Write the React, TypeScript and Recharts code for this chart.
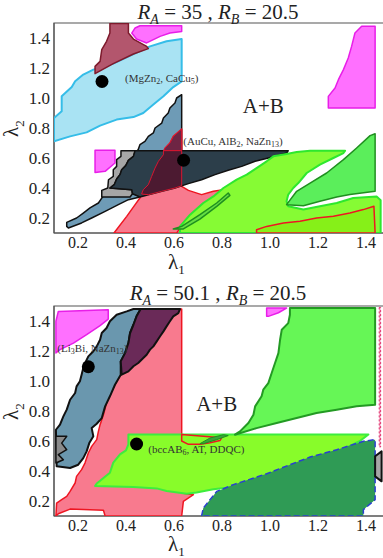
import React from "react";
import {
  ScatterChart,
  Scatter,
  XAxis,
  YAxis,
  ReferenceArea,
} from "recharts";

type Pt = [number, number];

const TICKS = [0.2, 0.4, 0.6, 0.8, 1.0, 1.2, 1.4];

// ---- top panel (R_A = 35) ----
const topCyan: Pt[] = [
  [0.1, 0.867], [0.132, 0.911], [0.132, 1.011], [0.174, 1.073], [0.188, 1.111],
  [0.222, 1.156], [0.264, 1.189], [0.347, 1.229], [0.431, 1.293], [0.5, 1.344],
  [0.569, 1.378], [0.632, 1.393], [0.632, 1.111], [0.597, 1.073], [0.556, 1.011],
  [0.514, 0.956], [0.472, 0.9], [0.431, 0.873], [0.361, 0.856], [0.292, 0.816],
  [0.236, 0.771], [0.167, 0.744], [0.1, 0.711],
];
const topMaroon: Pt[] = [
  [0.333, 1.496], [0.41, 1.496], [0.41, 1.433], [0.431, 1.393], [0.486, 1.344],
  [0.493, 1.329], [0.431, 1.293], [0.347, 1.229], [0.271, 1.162], [0.271, 1.211],
  [0.292, 1.244], [0.299, 1.322], [0.319, 1.378], [0.333, 1.433],
];
const topMagentaA: Pt[] = [
  [0.424, 1.433], [0.438, 1.467], [0.458, 1.482], [0.632, 1.482], [0.632, 1.444],
  [0.583, 1.433], [0.542, 1.411], [0.486, 1.367], [0.444, 1.393],
];
const topMagentaB: Pt[] = [
  [1.243, 0.933], [1.243, 1.011], [1.271, 1.067], [1.285, 1.122], [1.306, 1.189],
  [1.326, 1.267], [1.34, 1.344], [1.354, 1.433], [1.382, 1.478], [1.438, 1.478],
  [1.438, 0.933],
];
const topMagentaC: Pt[] = [
  [0.271, 0.651], [0.354, 0.651], [0.354, 0.567], [0.313, 0.511], [0.271, 0.504],
];
const topSteel: Pt[] = [
  [0.632, 1.022], [0.632, 0.644], [0.458, 0.34], [0.41, 0.322], [0.368, 0.289],
  [0.313, 0.244], [0.257, 0.2], [0.215, 0.167], [0.16, 0.133], [0.153, 0.144],
  [0.153, 0.171], [0.194, 0.2], [0.222, 0.233], [0.25, 0.267], [0.285, 0.3],
  [0.299, 0.333], [0.35, 0.45], [0.42, 0.6], [0.451, 0.656], [0.458, 0.689],
  [0.479, 0.711], [0.493, 0.744], [0.514, 0.767], [0.521, 0.8], [0.549, 0.833],
  [0.556, 0.867], [0.576, 0.9], [0.583, 0.933], [0.604, 0.967], [0.611, 1.0],
];
const topGray: Pt[] = [
  [0.379, 0.649], [0.438, 0.649], [0.431, 0.611], [0.41, 0.584], [0.399, 0.549],
  [0.382, 0.522], [0.375, 0.489], [0.361, 0.46], [0.351, 0.422], [0.333, 0.4],
  [0.424, 0.389], [0.427, 0.362], [0.417, 0.34], [0.299, 0.34], [0.299, 0.384],
  [0.324, 0.4], [0.327, 0.455], [0.347, 0.478], [0.347, 0.522], [0.361, 0.544],
  [0.361, 0.589], [0.379, 0.611],
];
const topPink: Pt[] = [
  [0.35, 0.1], [0.403, 0.211], [0.438, 0.289], [0.458, 0.333], [0.472, 0.389],
  [0.493, 0.422], [0.507, 0.478], [0.521, 0.533], [0.535, 0.578], [0.556, 0.622],
  [0.563, 0.667], [0.583, 0.7], [0.597, 0.744], [0.632, 0.793], [0.632, 0.411],
  [0.66, 0.384], [0.715, 0.356], [0.764, 0.378], [0.826, 0.393], [0.831, 0.371],
  [0.764, 0.3], [0.694, 0.222], [0.632, 0.144], [0.611, 0.1],
];
const topDark: Pt[] = [
  [0.438, 0.649], [1.076, 0.649], [1.07, 0.633], [0.993, 0.6], [0.938, 0.578],
  [0.882, 0.544], [0.826, 0.518], [0.771, 0.489], [0.715, 0.455], [0.66, 0.429],
  [0.604, 0.4], [0.549, 0.378], [0.493, 0.355], [0.458, 0.34], [0.427, 0.362],
  [0.424, 0.389], [0.333, 0.4], [0.351, 0.422], [0.361, 0.46], [0.375, 0.489],
  [0.382, 0.522], [0.399, 0.549], [0.41, 0.584], [0.431, 0.611],
];
const topMaroonA: Pt[] = [
  [0.632, 0.793], [0.597, 0.744], [0.583, 0.7], [0.563, 0.667], [0.556, 0.649],
  [0.632, 0.649],
];
const topMaroonB: Pt[] = [
  [0.556, 0.649], [0.632, 0.649], [0.632, 0.415], [0.604, 0.4], [0.549, 0.378],
  [0.493, 0.355], [0.465, 0.36], [0.472, 0.389], [0.493, 0.422], [0.507, 0.478],
  [0.521, 0.533], [0.535, 0.578], [0.556, 0.622],
];
const topLime: Pt[] = [
  [0.625, 0.1], [0.625, 0.144], [0.667, 0.222], [0.722, 0.3], [0.764, 0.344],
  [0.806, 0.4], [0.861, 0.456], [0.903, 0.489], [0.944, 0.533], [0.986, 0.578],
  [1.014, 0.611], [1.069, 0.627], [1.111, 0.64], [1.167, 0.649], [1.313, 0.649],
  [1.306, 0.633], [1.264, 0.6], [1.208, 0.556], [1.153, 0.5], [1.118, 0.433],
  [1.097, 0.4], [1.076, 0.356], [1.069, 0.311], [1.076, 0.278], [1.139, 0.256],
  [1.208, 0.278], [1.278, 0.3], [1.347, 0.333], [1.444, 0.344], [1.461, 0.318],
  [1.461, 0.1],
];
const topGreen: Pt[] = [
  [1.069, 0.289], [1.111, 0.378], [1.167, 0.433], [1.236, 0.5], [1.306, 0.589],
  [1.361, 0.667], [1.417, 0.749], [1.438, 0.762], [1.438, 0.378], [1.333, 0.356],
  [1.278, 0.34], [1.208, 0.311], [1.139, 0.282],
];
const topRedLime: Pt[] = [
  [0.944, 0.1], [0.944, 0.122], [0.986, 0.144], [1.056, 0.167], [1.125, 0.178],
  [1.194, 0.2], [1.264, 0.211], [1.333, 0.233], [1.389, 0.256], [1.433, 0.278],
  [1.438, 0.1],
];
const topSliver: Pt[] = [
  [0.597, 0.127], [0.632, 0.144], [0.708, 0.222], [0.778, 0.3], [0.826, 0.367],
  [0.833, 0.351], [0.778, 0.278], [0.708, 0.193], [0.639, 0.127],
];
const topDots: Pt[] = [[0.3, 1.11], [0.64, 0.585]];
const topLabels = [
  { x: 0.396, y: 1.13, text: "(MgZn_2, CaCu_5)" },
  { x: 0.639, y: 0.705, text: "(AuCu, AlB_2, NaZn_13)" },
];
const topAB = { x: 0.972, y: 0.933 };

// ---- bottom panel (R_A = 50.1) ----
const botMagenta: Pt[] = [
  [0.108, 1.398], [0.118, 1.464], [0.326, 1.475], [0.326, 1.413], [0.292, 1.369],
  [0.236, 1.309], [0.181, 1.253], [0.125, 1.209], [0.108, 1.187],
];
const botPink: Pt[] = [
  [0.465, 1.48], [0.632, 1.48], [0.632, 0.253], [0.681, 0.242], [0.639, 0.198],
  [0.632, 0.1], [0.313, 0.1], [0.306, 0.138], [0.167, 0.146], [0.118, 0.115],
  [0.108, 0.1], [0.111, 0.186], [0.132, 0.209], [0.153, 0.231], [0.167, 0.264],
  [0.188, 0.32], [0.194, 0.364], [0.215, 0.409], [0.229, 0.453], [0.243, 0.52],
  [0.257, 0.564], [0.278, 0.609], [0.285, 0.664], [0.292, 0.709], [0.306, 0.775],
  [0.319, 0.853], [0.333, 0.909], [0.354, 0.975], [0.378, 1.042], [0.382, 1.109],
  [0.403, 1.153], [0.41, 1.209], [0.424, 1.275], [0.438, 1.342], [0.451, 1.409],
];
const botSteel: Pt[] = [
  [0.461, 1.48], [0.444, 1.431], [0.431, 1.375], [0.417, 1.32], [0.41, 1.253],
  [0.396, 1.186], [0.378, 1.131], [0.378, 1.042], [0.354, 0.975], [0.333, 0.898],
  [0.313, 0.831], [0.299, 0.753], [0.278, 0.715], [0.257, 0.686], [0.264, 0.631],
  [0.247, 0.586], [0.236, 0.531], [0.222, 0.486], [0.201, 0.442], [0.167, 0.42],
  [0.111, 0.431], [0.108, 0.675], [0.125, 0.709], [0.139, 0.764], [0.153, 0.809],
  [0.167, 0.875], [0.188, 0.92], [0.194, 0.964], [0.208, 0.998], [0.215, 1.042],
  [0.222, 1.087], [0.233, 1.131], [0.243, 1.164], [0.264, 1.198], [0.278, 1.231],
  [0.292, 1.275], [0.299, 1.32], [0.319, 1.353], [0.333, 1.398], [0.361, 1.442],
  [0.403, 1.464], [0.431, 1.48],
];
const botMaroon: Pt[] = [
  [0.461, 1.48], [0.625, 1.48], [0.618, 1.453], [0.597, 1.431], [0.583, 1.398],
  [0.569, 1.364], [0.556, 1.331], [0.542, 1.298], [0.528, 1.264], [0.514, 1.231],
  [0.5, 1.209], [0.486, 1.175], [0.472, 1.153], [0.451, 1.12], [0.431, 1.098],
  [0.41, 1.064], [0.382, 1.042], [0.378, 1.131], [0.396, 1.186], [0.41, 1.253],
  [0.417, 1.32], [0.431, 1.375], [0.444, 1.431],
];
const botStar: Pt[] = [
  [0.108, 0.631], [0.153, 0.631], [0.132, 0.586], [0.153, 0.542], [0.118, 0.509],
  [0.139, 0.475], [0.108, 0.453],
];
const botLime: Pt[] = [
  [0.41, 0.644], [1.41, 0.644], [1.375, 0.6], [1.319, 0.556], [1.264, 0.511],
  [1.208, 0.478], [1.153, 0.444], [1.097, 0.411], [1.042, 0.378], [0.986, 0.356],
  [0.931, 0.322], [0.875, 0.3], [0.819, 0.289], [0.764, 0.278], [0.694, 0.256],
  [0.653, 0.249], [0.569, 0.267], [0.528, 0.284], [0.431, 0.293], [0.271, 0.3],
  [0.278, 0.316], [0.333, 0.389], [0.347, 0.456], [0.375, 0.511], [0.4, 0.538],
  [0.41, 0.578],
];
const botCap: Pt[] = [
  [0.632, 0.644], [0.632, 0.6], [0.66, 0.578], [0.708, 0.578], [0.75, 0.589],
  [0.792, 0.604], [0.799, 0.622],
];
const botSliver: Pt[] = [
  [0.708, 0.582], [0.75, 0.62], [0.806, 0.642], [0.826, 0.636], [0.778, 0.609],
  [0.722, 0.582],
];
const botGreen: Pt[] = [
  [1.083, 1.486], [1.438, 1.486], [1.438, 0.842], [1.361, 0.831], [1.278, 0.809],
  [1.194, 0.787], [1.111, 0.753], [1.028, 0.72], [0.944, 0.686], [0.854, 0.642],
  [0.875, 0.664], [0.91, 0.72], [0.931, 0.775], [0.938, 0.831], [0.965, 0.898],
  [0.972, 0.942], [0.993, 0.986], [1.007, 1.053], [1.021, 1.12], [1.035, 1.186],
  [1.042, 1.275], [1.049, 1.342], [1.076, 1.386], [1.083, 1.442],
];
const botMagentaB: Pt[] = [
  [0.986, 1.486], [1.069, 1.486], [1.035, 1.455], [0.993, 1.431], [0.986, 1.431],
];
const botDarkGreen: Pt[] = [
  [0.715, 0.1], [0.722, 0.153], [0.75, 0.209], [0.778, 0.264], [0.847, 0.309],
  [0.903, 0.338], [0.986, 0.382], [1.083, 0.442], [1.167, 0.493], [1.278, 0.542],
  [1.389, 0.598], [1.438, 0.609], [1.438, 0.209], [1.389, 0.142], [1.389, 0.1],
];
const botGrayR: Pt[] = [
  [1.438, 0.498], [1.465, 0.531], [1.465, 0.331], [1.438, 0.364],
];
const botRedEdge: Pt[] = [
  [1.455, 1.49], [1.461, 1.49], [1.461, 0.56], [1.455, 0.56],
];
const botDots: Pt[] = [[0.243, 1.095], [0.444, 0.58]];
const botLabels = [
  { x: 0.114, y: 1.213, text: "(Li_3Bi, NaZn_13)" },
  { x: 0.493, y: 0.538, text: "(bccAB_6, AT, DDQC)" },
];
const botAB = { x: 0.778, y: 0.833 };

interface Region {
  pts: Pt[];
  fill: string;
  stroke: string;
  sw?: number;
  dash?: string;
}

const topRegions: Region[] = [
  { pts: topCyan, fill: "#a9e3f3", stroke: "#35bde8", sw: 2 },
  { pts: topMaroon, fill: "#b3566d", stroke: "#7d1a2c" },
  { pts: topMagentaA, fill: "#ff70ff", stroke: "#e81ee8" },
  { pts: topMagentaB, fill: "#ff70ff", stroke: "#e81ee8" },
  { pts: topMagentaC, fill: "#ff70ff", stroke: "#e81ee8" },
  { pts: topSteel, fill: "#6e9bb6", stroke: "#111" },
  { pts: topGray, fill: "#a6a6a6", stroke: "#111" },
  { pts: topPink, fill: "#f87a8e", stroke: "#ee1622" },
  { pts: topDark, fill: "#2c3e4a", stroke: "#111" },
  { pts: topMaroonA, fill: "#6e2544", stroke: "#d81530", sw: 1 },
  { pts: topMaroonB, fill: "#4c1a31", stroke: "#d81530", sw: 1 },
  { pts: topLime, fill: "#86fb34", stroke: "#2ee82e", sw: 2 },
  { pts: topGreen, fill: "#5bee5b", stroke: "#1f8f1f" },
  { pts: topRedLime, fill: "#86f018", stroke: "#ee1622" },
  { pts: topSliver, fill: "#66dd44", stroke: "#1f8f1f" },
];

const botRegions: Region[] = [
  { pts: botMagenta, fill: "#ff70ff", stroke: "#e81ee8" },
  { pts: botPink, fill: "#f87a8e", stroke: "#ee1622" },
  { pts: botSteel, fill: "#6a97ae", stroke: "#111", sw: 2 },
  { pts: botMaroon, fill: "#6a2a58", stroke: "#111", sw: 2 },
  { pts: botStar, fill: "#8a8a8a", stroke: "#111" },
  { pts: botLime, fill: "#88fc2a", stroke: "#3ded3d", sw: 2 },
  { pts: botCap, fill: "#88fc2a", stroke: "#ee1622" },
  { pts: botSliver, fill: "#3aa43a", stroke: "#1f8f1f", sw: 1 },
  { pts: botGreen, fill: "#66f656", stroke: "#239a23", sw: 2 },
  { pts: botMagentaB, fill: "#ff70ff", stroke: "#e81ee8" },
  { pts: botDarkGreen, fill: "#2f9b55", stroke: "#2a3fd0", sw: 1.5, dash: "6 3" },
  { pts: botGrayR, fill: "#a6a6a6", stroke: "#111", sw: 2 },
  { pts: botRedEdge, fill: "#f4a0c0", stroke: "#e0306a", sw: 1, dash: "2 2" },
];

const SERIF = "'Liberation Serif', 'DejaVu Serif', serif";

const toData = (pts: Pt[]) => pts.map(([x, y]) => ({ x, y }));

const polygonLine = (r: Region) => (p: any) => (
  <polygon
    points={(p.points || []).map((q: any) => `${q.x},${q.y}`).join(" ")}
    fill={r.fill}
    stroke={r.stroke}
    strokeWidth={r.sw ?? 1.5}
    strokeDasharray={r.dash}
    strokeLinejoin="round"
  />
);

const renderSubText = (text: string, x: number, y: number) => {
  const parts = text.split(/_(\d+)/);
  return (
    <text x={x} y={y} fontFamily={SERIF} fontSize={11} fill="#333" dominantBaseline="middle">
      {parts.map((s, i) =>
        i % 2 === 1 ? (
          <tspan key={i} fontSize={8} dy={3}>
            {s}
          </tspan>
        ) : (
          <tspan key={i} dy={i === 0 ? 0 : -3}>
            {s}
          </tspan>
        )
      )}
    </text>
  );
};

interface PanelProps {
  regions: Region[];
  dots: Pt[];
  labels: { x: number; y: number; text: string }[];
  ab: { x: number; y: number };
  height: number;
  top: number;
}

const Panel = ({ regions, dots, labels, ab, height, top }: PanelProps) => (
  <ScatterChart
    width={400}
    height={height}
    margin={{ top, right: 10, bottom: 0, left: 0 }}
  >
    <XAxis
      type="number"
      dataKey="x"
      domain={[0.1, 1.5]}
      ticks={TICKS}
      allowDataOverflow
      tickFormatter={(v: number) => v.toFixed(1)}
      tick={{ fontFamily: SERIF, fontSize: 16, fill: "#222" }}
      tickLine={false}
      tickSize={2}
      axisLine={{ stroke: "#555" }}
      height={height - top - 210}
    />
    <YAxis
      type="number"
      dataKey="y"
      domain={[0.1, 1.5]}
      ticks={TICKS}
      allowDataOverflow
      tickFormatter={(v: number) => v.toFixed(1)}
      tick={{ fontFamily: SERIF, fontSize: 17, fill: "#222" }}
      tickLine={false}
      tickSize={2}
      axisLine={{ stroke: "#555" }}
      width={54}
    />
    {regions.map((r, i) => (
      <Scatter
        key={i}
        data={toData(r.pts)}
        line={polygonLine(r)}
        shape={() => <g />}
        isAnimationActive={false}
        legendType="none"
      />
    ))}
    <Scatter
      data={toData(dots)}
      fill="#000"
      isAnimationActive={false}
      shape={(p: any) => <circle cx={p.cx} cy={p.cy} r={6.5} fill="#000" />}
    />
    <Scatter
      data={labels}
      isAnimationActive={false}
      shape={(p: any) => renderSubText(p.payload?.text ?? p.text, p.cx, p.cy)}
    />
    <Scatter
      data={[ab]}
      isAnimationActive={false}
      shape={(p: any) => (
        <text
          x={p.cx}
          y={p.cy}
          fontFamily={SERIF}
          fontSize={21}
          fill="#222"
          textAnchor="middle"
          dominantBaseline="middle"
        >
          A+B
        </text>
      )}
    />
    <ReferenceArea x1={0.1} x2={1.5} y1={0.1} y2={1.5} fill="none" stroke="#555" strokeWidth={1.2} />
  </ScatterChart>
);

const Title = ({ ra, rb, top }: { ra: string; rb: string; top: number }) => (
  <div
    style={{
      position: "absolute",
      left: 0,
      width: 436,
      top,
      textAlign: "center",
      fontFamily: SERIF,
      fontSize: 21,
      color: "#222",
      whiteSpace: "pre",
      lineHeight: "22px",
    }}
  >
    <i>R</i>
    <sub style={{ fontSize: 14, fontStyle: "italic" }}>A</sub>
    {" = " + ra + " , "}
    <i>R</i>
    <sub style={{ fontSize: 14, fontStyle: "italic" }}>B</sub>
    {" = " + rb}
  </div>
);

const XLabel = ({ top }: { top: number }) => (
  <div style={{ position: "absolute", left: 168, top, fontFamily: SERIF, fontSize: 21, color: "#222", lineHeight: "16px" }}>
    λ<sub style={{ fontSize: 13, lineHeight: "8px" }}>1</sub>
  </div>
);

const YLabel = ({ top }: { top: number }) => (
  <div
    style={{
      position: "absolute",
      left: 1,
      top,
      width: 24,
      textAlign: "center",
      fontFamily: SERIF,
      fontSize: 21,
      color: "#222",
      lineHeight: "18px",
      transform: "rotate(-90deg)",
    }}
  >
    λ<sub style={{ fontSize: 13, lineHeight: "8px" }}>2</sub>
  </div>
);

export default function App() {
  return (
    <div
      style={{
        position: "absolute",
        left: 0,
        top: 0,
        width: 383,
        height: 558,
        overflow: "hidden",
        background: "#fff",
      }}
    >
      <div style={{ position: "absolute", left: 0, top: 0 }}>
        <Panel regions={topRegions} dots={topDots} labels={topLabels} ab={topAB} height={278} top={23} />
      </div>
      <div style={{ position: "absolute", left: 0, top: 278 }}>
        <Panel regions={botRegions} dots={botDots} labels={botLabels} ab={botAB} height={280} top={28} />
      </div>
      <Title ra="35" rb="20.5" top={1} />
      <Title ra="50.1" rb="20.5" top={282} />
      <XLabel top={254} />
      <XLabel top={536} />
      <YLabel top={118} />
      <YLabel top={401} />
    </div>
  );
}
